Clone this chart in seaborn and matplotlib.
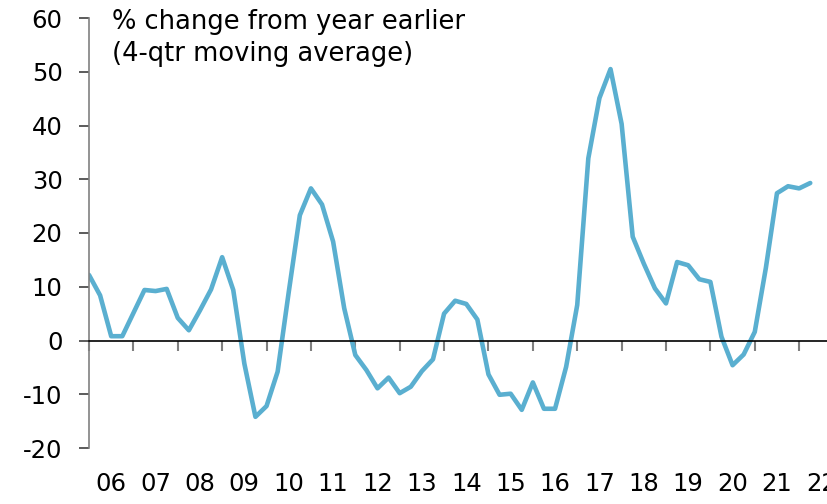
import seaborn as sns
from matplotlib import pyplot as plt
import pandas as pd

# quarterly data, 2006Q1 - 2022Q2
quarters = [f"{y}Q{q}" for y in range(2006, 2023) for q in range(1, 5)][:66]
growth = [12.2, 8.4, 0.8, 0.8, 5.1, 9.4, 9.2, 9.6, 4.2, 1.9,
          5.6, 9.5, 15.5, 9.4, -4.3, -14.2, -12.2, -5.8, 9.0, 23.3,
          28.3, 25.3, 18.4, 6.0, -2.7, -5.5, -8.9, -6.9, -9.8, -8.6,
          -5.7, -3.5, 5.0, 7.4, 6.8, 3.9, -6.3, -10.1, -9.9, -12.9,
          -7.8, -12.7, -12.7, -4.9, 6.6, 33.9, 45.1, 50.5, 40.3, 19.3,
          14.3, 9.7, 6.9, 14.6, 14.0, 11.4, 10.9, 0.7, -4.6, -2.6,
          1.6, 13.5, 27.4, 28.7, 28.3, 29.3]
year_labels = ["06", "07", "08", "09", "10", "11", "12", "13", "14",
               "15", "16", "17", "18", "19", "20", "21", "22"]

df = pd.DataFrame({"quarter": quarters, "growth": growth})
df["pos"] = range(len(df))

sns.set_style("white")
plt.rcParams["font.family"] = ["DejaVu Sans"]
plt.rcParams["axes.unicode_minus"] = False
plt.rcParams["text.color"] = "black"
plt.rcParams["xtick.color"] = "black"
plt.rcParams["ytick.color"] = "black"

fig = plt.figure(figsize=(8.28, 5.04), dpi=100)
ax = fig.add_axes([89 / 828, 1 - 448 / 504, 1 - 89 / 828, 430 / 504])

sns.lineplot(x="pos", y="growth", data=df, color="#5AAFD0", linewidth=3.3, ax=ax)

ax.set_xlim(0, 66.6)
ax.set_ylim(-20, 60)
ax.set_yticks(range(-20, 61, 10))
ax.set_xlabel("")
ax.set_ylabel("")

for s in ["top", "right"]:
    ax.spines[s].set_visible(False)
ax.spines["left"].set_color("#808080")
ax.spines["left"].set_linewidth(1.2)
ax.spines["bottom"].set_position(("data", 0))
ax.spines["bottom"].set_color("black")
ax.spines["bottom"].set_linewidth(1.2)

ax.set_xticks(range(0, 67, 4))
ax.set_xticklabels([])
ax.tick_params(axis="x", direction="out", length=7, width=1.5, color="#808080",
               bottom=True)
ax.tick_params(axis="y", direction="out", length=7, width=1.2, color="#404040",
               labelsize=17.5, labelcolor="black", pad=12, left=True)

sec = ax.secondary_xaxis("bottom")
sec.set_xticks([4 * k + 2 for k in range(len(year_labels))])
sec.set_xticklabels(year_labels)
sec.tick_params(length=0, labelsize=17.5, labelcolor="black", pad=17)
sec.spines["bottom"].set_visible(False)

fig.text(112 / 828, 1 - 9 / 504, "% change from year earlier\n(4-qtr moving average)",
         fontsize=18.5, va="top", ha="left", linespacing=1.3, color="black")

fig.savefig("out.png", dpi=100)
